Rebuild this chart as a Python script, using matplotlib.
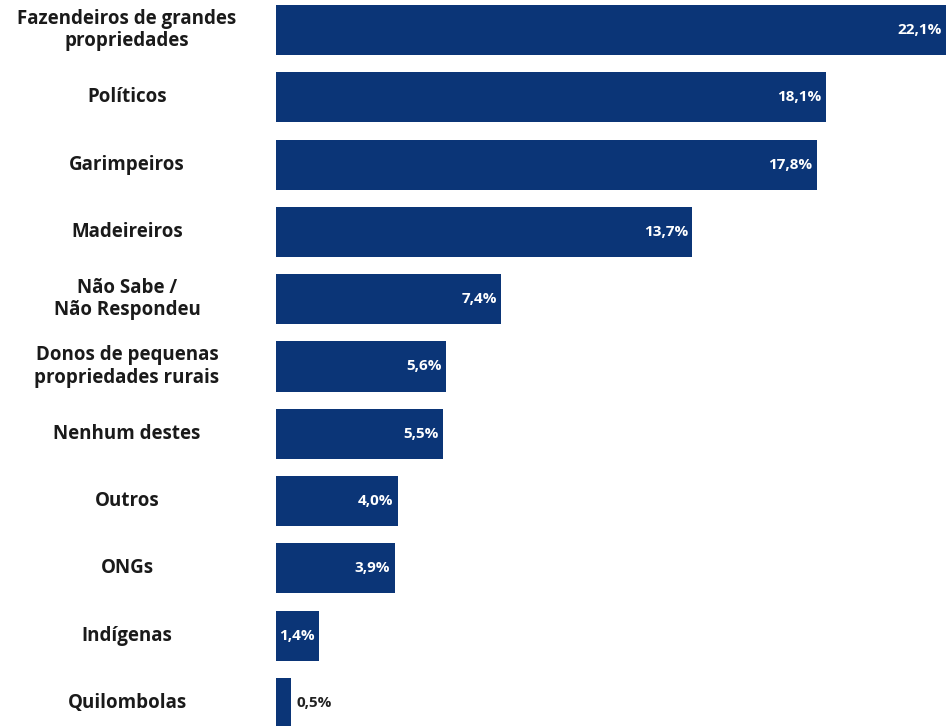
import matplotlib.pyplot as plt

categories = [
    "Fazendeiros de grandes\npropriedades",
    "Políticos",
    "Garimpeiros",
    "Madeireiros",
    "Não Sabe /\nNão Respondeu",
    "Donos de pequenas\npropriedades rurais",
    "Nenhum destes",
    "Outros",
    "ONGs",
    "Indígenas",
    "Quilombolas",
]
values = [22.1, 18.1, 17.8, 13.7, 7.4, 5.6, 5.5, 4.0, 3.9, 1.4, 0.5]
value_labels = ["22,1%", "18,1%", "17,8%", "13,7%", "7,4%", "5,6%",
                "5,5%", "4,0%", "3,9%", "1,4%", "0,5%"]

bar_color = "#0b3577"
plt.rcParams["font.family"] = ["Open Sans", "DejaVu Sans"]

fig = plt.figure(figsize=(9.46, 7.26), dpi=100)
ax = fig.add_axes([276 / 946, 0, 1 - 276 / 946, 1])

pos = list(range(len(values)))
ax.barh(pos, values, height=0.743, color=bar_color)
ax.set_xlim(0, 22.05)
ax.set_ylim(10.342, -0.446)
ax.axis("off")

for i, (v, lab) in enumerate(zip(values, value_labels)):
    if v >= 1:
        ax.annotate(lab, (min(v, 22.05), i), xytext=(-3, 0),
                    textcoords="offset points", annotation_clip=False,
                    ha="right", va="center", color="white",
                    fontsize=11, fontweight="bold")
    else:
        ax.annotate(lab, (v, i), xytext=(4, 0), textcoords="offset points",
                    annotation_clip=False,
                    ha="left", va="center", color="#222222",
                    fontsize=11, fontweight="bold")

for i, cat in enumerate(categories):
    y_fig = 1 - (30 + i * 67.3) / 726
    fig.text(127 / 946, y_fig, cat, ha="center", va="center",
             fontsize=13.5, fontweight="bold", color="#1a1a1a",
             linespacing=1.15)

fig.savefig("out.png", dpi=100)
